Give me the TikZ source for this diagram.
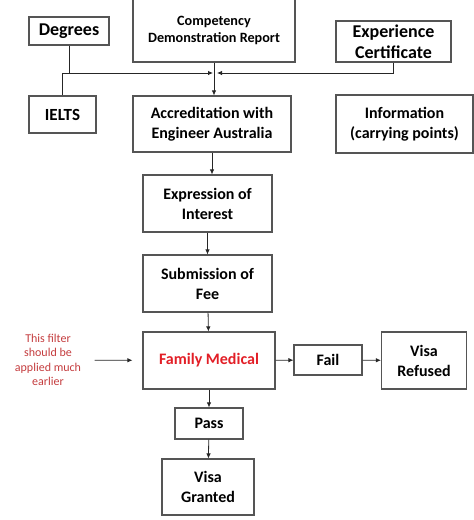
\documentclass[tikz,border=0pt]{standalone}
\usepackage{fontspec}
\setmainfont{Carlito}
\usetikzlibrary{arrows.meta, positioning}
\definecolor{boxgray}{RGB}{85,85,85}
\definecolor{medred}{RGB}{226,30,38}
\definecolor{notered}{RGB}{196,60,62}
\begin{document}
\begin{tikzpicture}[x=1pt, y=-1pt,
    box/.style={draw=boxgray, line width=1.1pt, align=center, inner sep=2pt,
        font=\bfseries\fontsize{16}{20}\selectfont},
    bigbox/.style={box, font=\bfseries\fontsize{18}{21}\selectfont},
    arr/.style={-{Latex[length=5pt, width=4.5pt]}, draw=black!85, line width=0.8pt}]
    \useasboundingbox (0,0) rectangle (474,520);

    % documents feeding the accreditation
    \node[bigbox, minimum width=80pt, minimum height=28pt] (deg) at (69,31) {Degrees};
    \node[box, minimum width=162pt, minimum height=63pt, font=\bfseries\fontsize{14.2}{17.5}\selectfont]
        (cdr) at (214,30.5) {Competency\\Demonstration Report};
    \node[bigbox, minimum width=115pt, minimum height=41pt] (exp) at (393.5,41.5) {Experience\\Certificate};
    \node[box, minimum width=67pt, minimum height=37pt, font=\bfseries\fontsize{17}{20}\selectfont]
        (ielts) at (62.5,114.5) {IELTS};
    \node[box, minimum width=158pt, minimum height=56pt] (acc) at (212,124) {Accreditation with\\Engineer Australia};
    \node[box, minimum width=137pt, minimum height=58pt] (info) at (404.5,124) {Information\\(carrying points)};

    % main chain
    \node[box, minimum width=129pt, minimum height=57pt] (eoi) at (207.5,203.5) {Expression of\\Interest};
    \node[box, minimum width=129pt, minimum height=57pt] (fee) at (207.5,283.5) {Submission of\\Fee};
    \node[box, minimum width=132pt, minimum height=57pt, text=medred] (fm) at (209,360.5) {Family Medical};
    \node[box, minimum width=68pt, minimum height=30pt] (fail) at (328,360) {Fail};
    \node[box, minimum width=85pt, minimum height=57pt] (refused) at (424,360.5) {Visa\\Refused};
    \node[box, minimum width=68pt, minimum height=31pt] (pass) at (209,423.5) {Pass};
    \node[box, minimum width=92pt, minimum height=56pt] (granted) at (208,487) {Visa\\Granted};

    \node[align=center, text=notered, font=\fontsize{12}{14.5}\selectfont] (note) at (48,360)
        {This filter\\should be\\applied much\\earlier};

    % junction above the accreditation
    \coordinate (jl) at (213,73);
    \coordinate (jr) at (217,73);
    \draw[arr] (ielts.north) |- (jl);
    \draw[arr, -] (deg.south) -- (deg.south |- jl);
    \draw[arr] (exp.south) |- (jr);
    \draw[arr] (cdr.south) -- (cdr.south |- acc.north);

    \draw[arr] (acc.south) -- (acc.south |- eoi.north);
    \draw[arr] (eoi) -- (fee);
    \draw[arr] (fee) -- (fm);
    \draw[arr] (fm) -- (pass);
    \draw[arr] (pass) -- (granted);
    \draw[arr] (fm) -- (fail);
    \draw[arr] (fail) -- (refused);
    \draw[arr, shorten <=10pt, shorten >=10pt] (note) -- (fm);
\end{tikzpicture}
\end{document}
